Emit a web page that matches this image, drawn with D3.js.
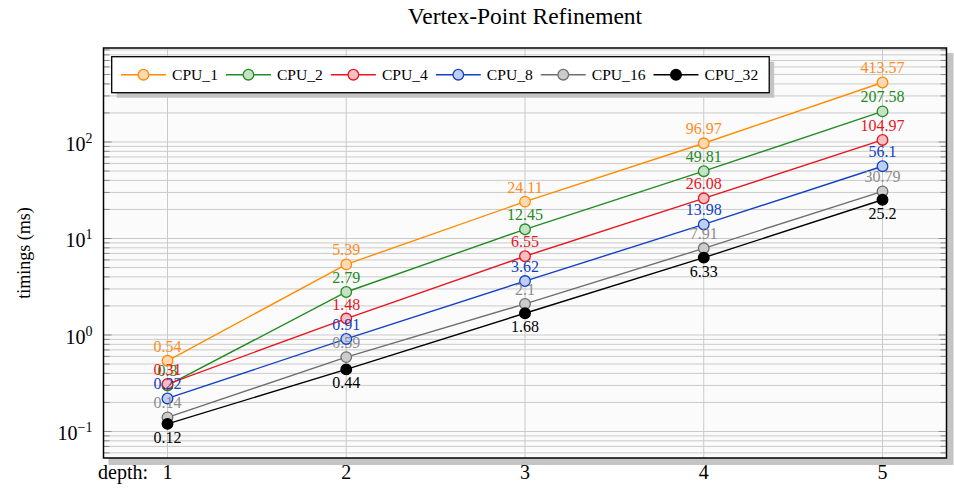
<!DOCTYPE html>
<html><head><meta charset="utf-8">
<script src="https://cdn.jsdelivr.net/npm/d3@7"></script>
<style>body{margin:0;background:#fff}svg{display:block}text{font-family:"Liberation Serif","Times New Roman",serif}</style>
</head><body><svg id="c" width="954" height="489"></svg>
<script>
const depths = [1, 2, 3, 4, 5];
const seriesNames = ["CPU_1", "CPU_2", "CPU_4", "CPU_8", "CPU_16", "CPU_32"];
const cpu1  = [0.54, 5.39, 24.11, 96.97, 413.57];
const cpu2  = [0.30, 2.79, 12.45, 49.81, 207.58];
const cpu4  = [0.31, 1.48, 6.55, 26.08, 104.97];
const cpu8  = [0.22, 0.91, 3.62, 13.98, 56.1];
const cpu16 = [0.14, 0.59, 2.1, 7.91, 30.79];
const cpu32 = [0.12, 0.44, 1.68, 6.33, 25.2];
const yTickExps = [-1, 0, 1, 2];
const xTickLabels = ["1", "2", "3", "4", "5"];

const styles = [
  {stroke:"#ff8c00", fill:"#ffd9b5", label:"#ff8c1a", below:false},
  {stroke:"#228b22", fill:"#c6e2c6", label:"#228b22", below:false},
  {stroke:"#e8141e", fill:"#f6c0c2", label:"#e8141e", below:false},
  {stroke:"#1241c4", fill:"#c0cff0", label:"#1241c4", below:false},
  {stroke:"#6e6e6e", fill:"#cccccc", label:"#8c8c8c", below:false},
  {stroke:"#000000", fill:"#000000", label:"#000000", below:true}
];
const data = [cpu1, cpu2, cpu4, cpu8, cpu16, cpu32];

const L = 103.5, R = 946.5, T = 48, B = 458;
const svg = d3.select("#c");
const x = d3.scaleLinear().domain([0.642, 5.358]).range([L, R]);
const y = d3.scaleLog().domain([0.0531, 942]).range([B, T]);

// shadow
svg.append("rect").attr("x", L+5).attr("y", T+5).attr("width", R-L+2).attr("height", B-T+2).attr("fill", "#c4c4c4");
svg.append("rect").attr("x", L).attr("y", T).attr("width", R-L).attr("height", B-T).attr("fill", "#fbfbfb");

// grid
const minorVals = [];
for (let e = -2; e <= 3; e++) for (let k = 1; k <= 9; k++) {
  const v = k * Math.pow(10, e);
  if (v >= y.domain()[0] && v <= y.domain()[1]) minorVals.push(v);
}
const g = svg.append("g");
g.selectAll("line.h").data(minorVals).join("line")
  .attr("x1", L).attr("x2", R).attr("y1", d => y(d)).attr("y2", d => y(d))
  .attr("stroke", "#cacaca").attr("stroke-width", 1);
g.selectAll("line.v").data(depths).join("line")
  .attr("x1", d => x(d)).attr("x2", d => x(d)).attr("y1", T).attr("y2", B)
  .attr("stroke", "#cacaca").attr("stroke-width", 1);
// ticks inside
const isMajor = v => Math.abs(Math.log10(v) - Math.round(Math.log10(v))) < 1e-9;
g.selectAll("line.tl").data(minorVals).join("line")
  .attr("x1", L).attr("x2", d => L + (isMajor(d) ? 8 : 6)).attr("y1", d => y(d)).attr("y2", d => y(d))
  .attr("stroke", "#8a8a8a").attr("stroke-width", 1);
g.selectAll("line.tr").data(minorVals).join("line")
  .attr("x1", R).attr("x2", d => R - (isMajor(d) ? 8 : 6)).attr("y1", d => y(d)).attr("y2", d => y(d))
  .attr("stroke", "#8a8a8a").attr("stroke-width", 1);

// y tick labels
yTickExps.forEach(e => {
  const t = svg.append("text").attr("x", L - 11).attr("y", y(Math.pow(10, e)) + 9)
    .attr("text-anchor", "end").attr("font-size", 20).attr("fill", "#000");
  t.append("tspan").text("10");
  t.append("tspan").attr("dy", -8).attr("font-size", 14).text(e < 0 ? "\u2212" + (-e) : String(e));
});
// x tick labels
svg.selectAll("text.xt").data(depths).join("text")
  .attr("x", d => x(d)).attr("y", 479).attr("text-anchor", "middle").attr("font-size", 20)
  .text((d, i) => xTickLabels[i]);
svg.append("text").attr("x", 148).attr("y", 479).attr("text-anchor", "end").attr("font-size", 20).text("depth:");

// axis label & title
svg.append("text").attr("transform", `translate(30,${(T+B)/2}) rotate(-90)`).attr("text-anchor", "middle")
  .attr("font-size", 18).text("timings (ms)");
svg.append("text").attr("x", (L+R)/2).attr("y", 24).attr("text-anchor", "middle").attr("font-size", 23.5)
  .text("Vertex-Point Refinement");

// series
const line = d3.line().x((d, i) => x(depths[i])).y(d => y(d));
data.forEach((vals, s) => {
  const st = styles[s];
  const sg = svg.append("g");
  sg.append("path").attr("d", line(vals)).attr("fill", "none").attr("stroke", st.stroke).attr("stroke-width", 1.4);
  sg.selectAll("circle").data(vals).join("circle")
    .attr("cx", (d, i) => x(depths[i])).attr("cy", d => y(d)).attr("r", 5.3)
    .attr("fill", st.fill).attr("stroke", st.stroke).attr("stroke-width", 1.3);
  sg.selectAll("text").data(vals).join("text")
    .attr("x", (d, i) => x(depths[i])).attr("y", d => y(d) + (st.below ? 19 : -9))
    .attr("text-anchor", "middle").attr("font-size", 16).attr("fill", st.label)
    .text(d => String(+d.toFixed(2)));
});

// frame
svg.append("rect").attr("x", L).attr("y", T).attr("width", R-L).attr("height", B-T)
  .attr("fill", "none").attr("stroke", "#000").attr("stroke-width", 1.5);

// legend
const lg = svg.append("g");
const lx0 = 111.7, ly0 = 56.7, lh = 36;
const shadow = lg.append("rect").attr("fill", "#c4c4c4");
const box = lg.append("rect").attr("fill", "#fff").attr("stroke", "#000").attr("stroke-width", 1.3);
let cx = 121;
const cy = ly0 + lh/2;
seriesNames.forEach((name, s) => {
  const st = styles[s];
  lg.append("line").attr("x1", cx).attr("x2", cx + 45).attr("y1", cy).attr("y2", cy)
    .attr("stroke", st.stroke).attr("stroke-width", 1.4);
  lg.append("circle").attr("cx", cx + 22.5).attr("cy", cy).attr("r", 5.3)
    .attr("fill", st.fill).attr("stroke", st.stroke).attr("stroke-width", 1.3);
  const t = lg.append("text").attr("x", cx + 51).attr("y", cy + 5.5).attr("font-size", 15.6).text(name);
  cx = cx + 51 + t.node().getComputedTextLength() + 8;
});
const lw = cx - lx0 + 3;
box.attr("x", lx0).attr("y", ly0).attr("width", lw).attr("height", lh);
shadow.attr("x", lx0 + 5).attr("y", ly0 + 5).attr("width", lw).attr("height", lh);
</script></body></html>
